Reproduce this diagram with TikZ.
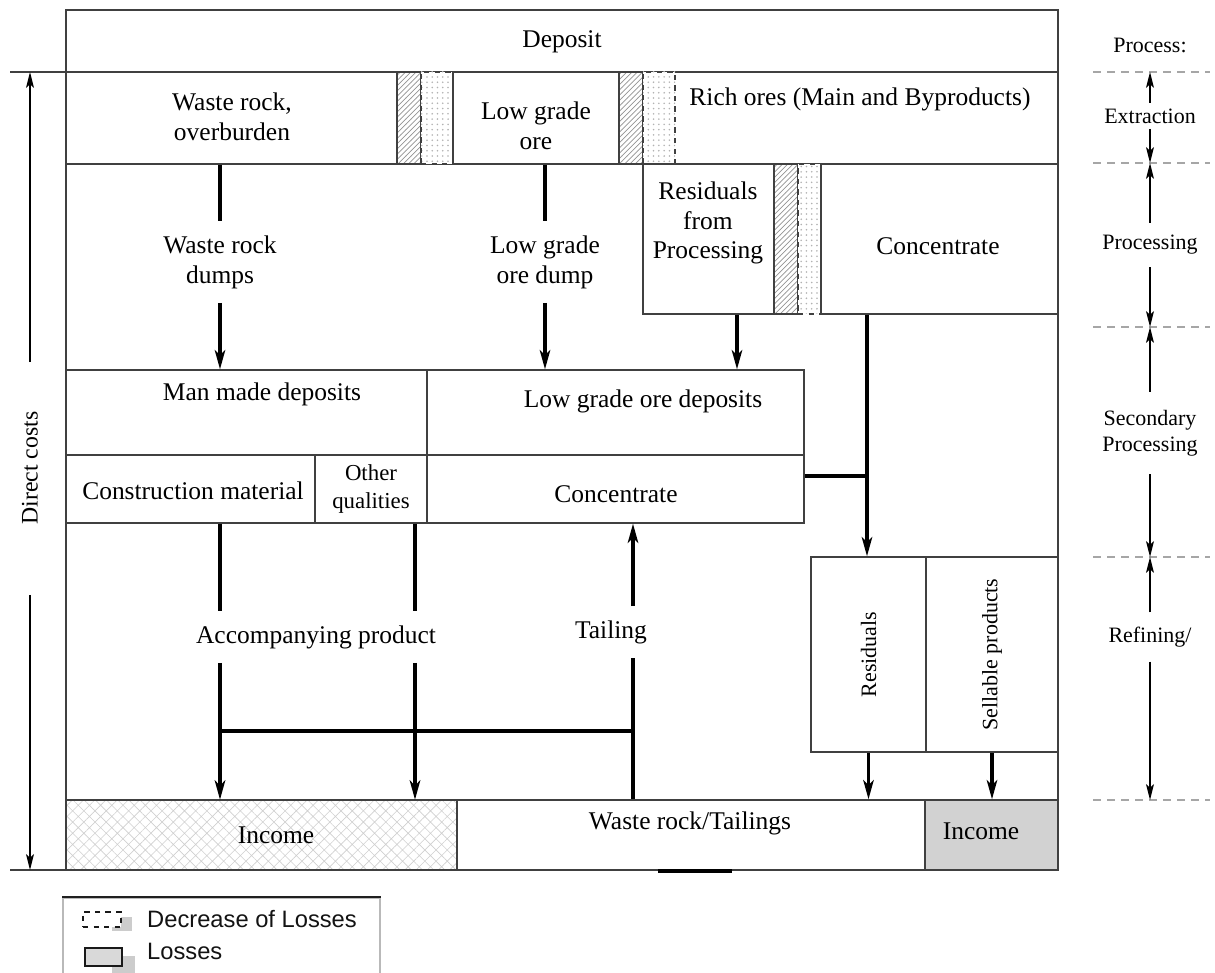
\documentclass[tikz,border=0pt]{standalone}
\usepackage{fontspec}
\setmainfont{Liberation Serif}
\newfontfamily\legendfont{Liberation Sans}
\usetikzlibrary{arrows.meta,patterns,patterns.meta,fit}

\definecolor{linegray}{HTML}{404040}
\definecolor{incomegray}{HTML}{D2D2D2}
\newcommand\mainsize{\fontsize{14.5}{17}\selectfont}
\newcommand\othersize{\fontsize{13}{16}\selectfont}
\newcommand\rotsize{\fontsize{12.5}{15}\selectfont}
\newcommand\procsize{\fontsize{12.5}{15}\selectfont}

\begin{document}
\begin{tikzpicture}
    [x=0.02cm, y=-0.02cm, font=\mainsize,
     box/.style={draw=linegray, line width=0.8pt, inner sep=0pt},
     txt/.style={align=center, inner sep=0pt},
     hatchbar/.style={draw=linegray, line width=0.8pt, inner sep=0pt,
        pattern=north east lines, pattern color=gray!85},
     dotbar/.style={draw=linegray, dashed, line width=0.9pt, inner sep=0pt,
        preaction={fill=white}, pattern=dots, pattern color=gray!60},
     tag/.style={align=center, inner sep=8pt},
     flow/.style={line width=1.8pt},
     flowarrow/.style={line width=1.8pt, -{Stealth[length=11pt,width=6pt,inset=3pt]}},
     thinarrow/.style={line width=0.9pt, -{Stealth[length=9pt,width=4.5pt,inset=2pt]}},
     procstep/.style={font=\procsize, align=center, inner sep=5pt},
     sepline/.style={draw=gray!70, line width=0.9pt, dash pattern=on 4.5pt off 3.5pt}]
  \clip (0,0) rectangle (1215,973);

  % main frame and deposit
  \node[box, fit={(66,10) (1058,870)}] (frame) {};
  \node[box, fit={(66,10) (1058,72)}] (deposit) {};
  \node[txt] (deposittext) at (562,42) {Deposit};

  % extraction
  \node[box, fit={(66,72) (1058,164)}] (extrow) {};
  \node[box, fit={(66,72) (397,164)}] (waste) {};
  \node[txt] (wastetext) at (232,117) {Waste rock,\\overburden};
  \node[hatchbar, fit={(397,72) (421,164)}] (hatchA) {};
  \node[dotbar, fit={(421,72) (453,164)}] (dotA) {};
  \node[box, fit={(453,72) (619,164)}] (lowore) {};
  \node[txt] (loworetext) at (536,126) {Low grade\\ore};
  \node[hatchbar, fit={(619,72) (643,164)}] (hatchB) {};
  \node[dotbar, fit={(643,72) (675,164)}] (dotB) {};
  \node[txt] (rich) at (860,99) {Rich ores (Main and Byproducts)};

  % processing
  \node[box, fit={(643,164) (774,314)}] (resproc) {};
  \node[txt] (resproctext) at (708,223) {Residuals\\from\\Processing};
  \node[hatchbar, fit={(774,164) (798,314)}] (hatchC) {};
  \node[dotbar, fit={(798,164) (821,314)}] (dotC) {};
  \node[box, fit={(821,164) (1058,314)}] (concA) {};
  \node[txt] (concAtext) at (938,246) {Concentrate};

  % secondary processing
  \node[box, fit={(66,370) (427,455)}] (manmade) {};
  \node[txt] (manmadetext) at (262,394) {Man made deposits};
  \node[box, fit={(427,370) (804,455)}] (lgdep) {};
  \node[txt] (lgdeptext) at (643,401) {Low grade ore deposits};
  \node[box, fit={(66,455) (315,523)}] (constr) {};
  \node[txt] (constrtext) at (193,491) {Construction material};
  \node[box, fit={(315,455) (427,523)}] (other) {};
  \node[txt, font=\othersize] (othertext) at (371,489) {Other\\qualities};
  \node[box, fit={(427,455) (804,523)}] (concB) {};
  \node[txt] (concBtext) at (616,494) {Concentrate};

  % refining
  \node[box, fit={(811,557) (926,752)}] (resid) {};
  \node[rotate=90, font=\rotsize] (residtext) at (resid.center) {Residuals};
  \node[box, fit={(926,557) (1058,752)}] (sell) {};
  \node[rotate=90, font=\rotsize] (selltext) at (sell.center) {Sellable products};

  % results
  \node[box, pattern={Hatch[angle=45,distance=4.5pt,line width=0.35pt]}, pattern color=gray!38,
        fit={(66,800) (457,870)}] (incomeA) {};
  \node[txt] (incomeAtext) at (276,835) {Income};
  \node[box, fit={(457,800) (925,870)}] (tailbox) {};
  \node[txt] (tailtext) at (690,823) {Waste rock/Tailings};
  \node[box, fill=incomegray, fit={(925,800) (1058,870)}] (incomeB) {};
  \node[txt] (incomeBtext) at (981,831) {Income};
  \draw[line width=2.5pt] (658,871) -- (732,871);

  % flows
  \node[tag] (wdump) at (220,262) {Waste rock\\dumps};
  \draw[flow] (waste.south -| wdump) -- (wdump);
  \draw[flowarrow] (wdump) -- (manmade.north -| wdump);
  \node[tag] (ldump) at (545,262) {Low grade\\ore dump};
  \draw[flow] (lowore.south -| ldump) -- (ldump);
  \draw[flowarrow] (ldump) -- (lgdep.north -| ldump);
  \coordinate (rpx) at (737,0);
  \draw[flowarrow] (resproc.south -| rpx) -- (lgdep.north -| rpx);

  \coordinate (cx) at (867,0);
  \coordinate (cy) at (0,476);
  \draw[flowarrow] (concA.south -| cx) -- (resid.north -| cx);
  \draw[flow] (concB.east |- cy) -- (cx |- cy);

  \node[tag] (accomp) at (316,637) {Accompanying product};
  \coordinate (ax1) at (220,0);
  \coordinate (ax2) at (415,0);
  \draw[flow] (constr.south -| ax1) -- (ax1 |- accomp.north);
  \draw[flowarrow] (ax1 |- accomp.south) -- (incomeA.north -| ax1);
  \draw[flow] (other.south -| ax2) -- (ax2 |- accomp.north);
  \draw[flowarrow] (ax2 |- accomp.south) -- (incomeA.north -| ax2);
  \node[tag] (tailing) at (611,632) {Tailing};
  \coordinate (tx) at (633,0);
  \coordinate (jy) at (0,731);
  \draw[flow] (tailbox.north -| tx) -- (tx |- tailing.south);
  \draw[flowarrow] (tx |- tailing.north) -- (concB.south -| tx);
  \draw[flow] (ax1 |- jy) -- (tx |- jy);

  \draw[flowarrow] (resid.south) -- (resid.south |- tailbox.north);
  \draw[flowarrow] (sell.south) -- (sell.south |- incomeB.north);

  % direct costs
  \draw[linegray, line width=0.8pt] (10,72) -- (66,72);
  \draw[linegray, line width=0.8pt] (10,870) -- (66,870);
  \coordinate (dctop) at (30,72);
  \coordinate (dcbot) at (30,870);
  \node[rotate=90, font=\fontsize{13.5}{16}\selectfont, inner sep=28pt] (dc) at (30,468) {Direct costs};
  \draw[thinarrow] (dc.east) -- (dctop);
  \draw[thinarrow, shorten <=12pt] (dc.west) -- (dcbot);

  % process column
  \node[procstep] (proc) at (1150,45) {Process:};
  \foreach \y in {72,163,327,557,800}
    \draw[sepline] (1093,\y) -- (1210,\y);
  \coordinate (pA) at (1150,72);
  \coordinate (pB) at (1150,163);
  \coordinate (pC) at (1150,327);
  \coordinate (pD) at (1150,557);
  \coordinate (pE) at (1150,800);
  \node[procstep, inner sep=3pt] (extr) at (1150,116) {Extraction};
  \draw[thinarrow] (extr) -- (pA);
  \draw[thinarrow] (extr) -- (pB);
  \node[procstep, inner sep=7pt] (procs) at (1150,245) {Processing};
  \draw[thinarrow] (procs) -- (pB);
  \draw[thinarrow] (procs) -- (pC);
  \node[procstep, inner sep=10pt] (secp) at (1150,433) {Secondary\\Processing};
  \draw[thinarrow] (secp) -- (pC);
  \draw[thinarrow] (secp) -- (pD);
  \node[procstep, inner sep=8pt] (refin) at (1150,637) {Refining/};
  \draw[thinarrow] (refin) -- (pD);
  \draw[thinarrow] (refin) -- (pE);

  % legend
  \node[draw=gray!55, line width=0.8pt, fit={(63,898) (380,990)}, inner sep=0pt] (legend) {};
  \draw[gray!25!black, line width=1.2pt] (legend.north west) -- (legend.north east);
  \fill[gray!40] (112,917) rectangle (132,931);
  \node[draw=gray!20!black, dashed, line width=0.9pt, fill=white, fit={(83,912) (121,927)}, inner sep=0pt] (iconA) {};
  \fill[gray!40] (112,956) rectangle (135,973);
  \node[draw=gray!20!black, line width=1.2pt, fill=gray!30, fit={(85,948) (122,966)}, inner sep=0pt] (iconB) {};
  \node[anchor=west, font=\legendfont\fontsize{13.5}{16}\selectfont, text=gray!15!black] (decr) at (141,919) {Decrease of Losses};
  \node[anchor=west, font=\legendfont\fontsize{13.5}{16}\selectfont, text=gray!15!black] (loss) at (141,951) {Losses};
\end{tikzpicture}
\end{document}
